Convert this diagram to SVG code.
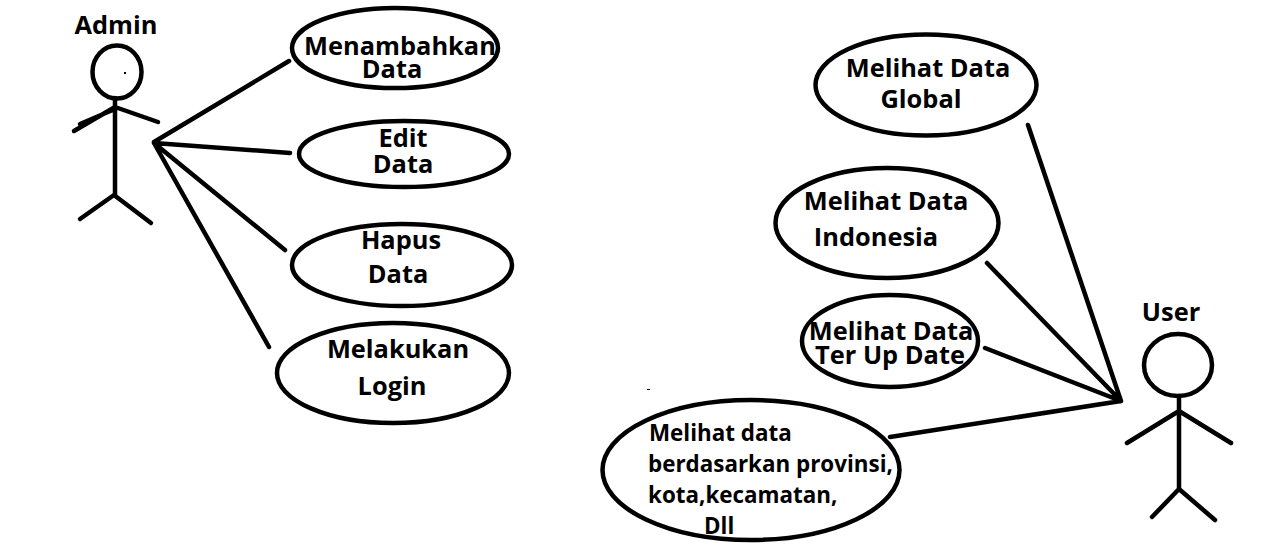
<svg xmlns="http://www.w3.org/2000/svg" width="1262" height="548" viewBox="0 0 1262 548">
<style>
.s{fill:none;stroke:#000;stroke-width:4.5;stroke-linecap:round;stroke-linejoin:round}
.e{fill:#fff;stroke:#000;stroke-width:4.5}
.d{fill:#000}
text{font-family:"Open Sans","Noto Sans",sans-serif;font-weight:700;fill:#000;font-size:25.4px;text-anchor:middle}
text.p{font-size:22.4px;text-anchor:start}
</style>
<rect width="1262" height="548" fill="#fff"/>
<g id="connectors">
<path class="s" d="M154 142L289 61M154 143L290 153M154 143L285 250M154 143L269 347"/>
<path class="s" d="M1028 125L1121 401M987 263L1121 401M985 348L1121 401M890 437L1121 401"/>
</g>
<g id="admin">
<ellipse class="s" cx="117" cy="72" rx="24.5" ry="26.5"/>
<path class="s" d="M115 98V195M74 131L115 107L158 122M80 219L114 195L151 223M80 124L115 109"/>
<rect class="d" x="124" y="72" width="2" height="2"/>
<text x="116" y="34">Admin</text>
</g>
<g id="menambahkan"><ellipse class="e" cx="395" cy="48" rx="103" ry="40"/><text x="400" y="55">Menambahkan</text><text x="392" y="78">Data</text></g>
<g id="edit"><ellipse class="e" cx="404" cy="154" rx="105" ry="33"/><text x="403" y="147">Edit</text><text x="403" y="173">Data</text></g>
<g id="hapus"><ellipse class="e" cx="402" cy="265" rx="110" ry="41"/><text x="401" y="249">Hapus</text><text x="398" y="283">Data</text></g>
<g id="login"><ellipse class="e" cx="393" cy="373" rx="116" ry="50"/><text x="398" y="358">Melakukan</text><text x="392" y="395">Login</text></g>
<g id="global"><ellipse class="e" cx="926" cy="85" rx="110.500" ry="50.500"/><text x="928" y="77">Melihat Data</text><text x="921" y="108">Global</text></g>
<g id="indonesia"><ellipse class="e" cx="887" cy="223" rx="111.500" ry="55"/><text x="886" y="210">Melihat Data</text><text x="876" y="246">Indonesia</text></g>
<g id="terupdate"><ellipse class="e" cx="890" cy="341" rx="88" ry="46"/><text x="891" y="340">Melihat Data</text><text x="890" y="364">Ter Up Date</text></g>
<g id="provinsi"><ellipse class="e" cx="751" cy="470" rx="148.500" ry="70"/>
<text class="p" x="649" y="441">Melihat data</text>
<text class="p" x="648" y="472">berdasarkan provinsi,</text>
<text class="p" x="648" y="503">kota,kecamatan,</text>
<text class="p" x="704" y="534">Dll</text></g>
<rect class="d" x="647" y="389" width="3" height="1"/>
<g id="user">
<ellipse class="s" cx="1178" cy="365" rx="34" ry="31"/>
<path class="s" d="M1179 396V489M1127 443L1179 411L1231 443M1152 517L1179 489L1215 520"/>
<text x="1171" y="321">User</text>
</g>
</svg>
